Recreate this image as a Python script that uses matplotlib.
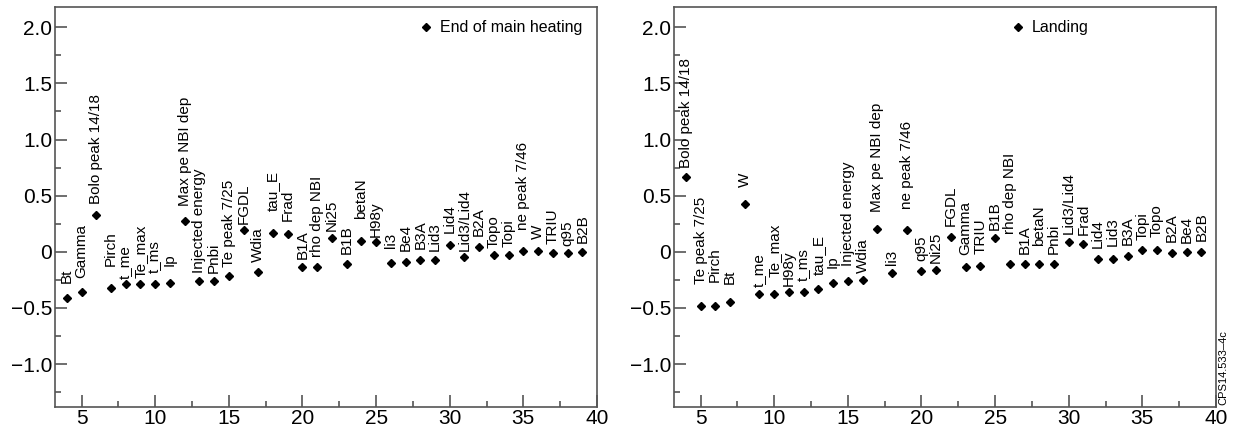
import numpy as np
import matplotlib
matplotlib.use("Agg")
import matplotlib.pyplot as plt
from matplotlib.ticker import MultipleLocator, FixedLocator, FuncFormatter

plt.rcParams['font.family'] = ['Liberation Sans', 'DejaVu Sans']

# 左图: End of main heating
x_left = list(range(4, 40))
names_left = ['Bt', 'Gamma', 'Bolo peak 14/18', 'Pirch', 't_me', 'Te_max', 't_ms', 'Ip',
              'Max pe NBI dep', 'Injected energy', 'Pnbi', 'Te peak 7/25', 'FGDL', 'Wdia',
              'tau_E', 'Frad', 'B1A', 'rho dep NBI', 'Ni25', 'B1B', 'betaN', 'H98y', 'li3',
              'Be4', 'B3A', 'Lid3', 'Lid4', 'Lid3/Lid4', 'B2A', 'Topo', 'Topi', 'ne peak 7/46',
              'W', 'TRIU', 'q95', 'B2B']
vals_left = [-0.41, -0.36, 0.33, -0.32, -0.29, -0.285, -0.285, -0.28,
             0.27, -0.26, -0.26, -0.22, 0.19, -0.18,
             0.17, 0.16, -0.14, -0.135, 0.12, -0.11, 0.10, 0.09, -0.10,
             -0.09, -0.075, -0.075, 0.06, -0.045, 0.04, -0.03, -0.025, 0.01,
             0.01, -0.015, -0.01, -0.005]

# 右图: Landing
x_right = list(range(4, 40))
names_right = ['Bolo peak 14/18', 'Te peak 7/25', 'Pirch', 'Bt', 'W', 't_me', 'Te_max', 'H98y',
               't_ms', 'tau_E', 'Ip', 'Injected energy', 'Wdia', 'Max pe NBI dep', 'li3',
               'ne peak 7/46', 'q95', 'Ni25', 'FGDL', 'Gamma', 'TRIU', 'B1B', 'rho dep NBI',
               'B1A', 'betaN', 'Pnbi', 'Lid3/Lid4', 'Frad', 'Lid4', 'Lid3', 'B3A', 'Topi',
               'Topo', 'B2A', 'Be4', 'B2B']
vals_right = [0.67, -0.48, -0.48, -0.45, 0.43, -0.38, -0.38, -0.36,
              -0.36, -0.33, -0.28, -0.26, -0.25, 0.20, -0.19,
              0.19, -0.17, -0.16, 0.13, -0.135, -0.13, 0.12, -0.11,
              -0.11, -0.11, -0.11, 0.085, 0.07, -0.065, -0.065, -0.035, 0.02,
              0.02, -0.015, 0.0, -0.005]

# 标签相对标记的偏移 (像素)
offs_left = [15, 14, 11, 22, 5, 6, 11, 17, 15, 8, 8, 9, 6, 10, 22, 13, 8, 10,
             7, 10, 22, 5, 15, 11, 11, 9, 12, 6, 11, 7, 8, 21, 12, 9, 7, 9]
offs_right = [9, 22, 24, 18, 17, 7, 17, 6, 11, 14, 15, 15, 7, 17, 8, 21, 10, 7, 11,
              12, 12, 8, 30, 10, 18, 10, 8, 9, 11, 13, 11, 10, 13, 11, 9, 11]

yticks = [-1.0, -0.5, 0, 0.5, 1.0, 1.5, 2.0]

fig = plt.figure(figsize=(12.39, 4.32), dpi=100)
ax_l = fig.add_axes([55 / 1239, 0.0586, 542 / 1239, 0.925])
ax_r = fig.add_axes([674 / 1239, 0.0586, 542 / 1239, 0.925])

frame_col = '#555555'


def fmt_y(v, pos):
    if abs(v) < 1e-9:
        return '0'
    return f'{v:.1f}'.replace('-', '\u2212')


def draw_panel(ax, xs, ys, names, offs, legend_label, legend_x):
    h, = ax.plot(xs, ys, 'D', color='black', markersize=4.2, linestyle='none',
                 label=legend_label)
    for x, y, name, off in zip(xs, ys, names, offs):
        ax.annotate(name, (x, y), xytext=(0, off * 0.72), textcoords='offset points',
                    rotation=90, ha='center', va='bottom', fontsize=11)
    ax.set_xlim(3.2, 40)
    ax.set_ylim(-1.38, 2.18)
    ax.xaxis.set_major_locator(MultipleLocator(5))
    ax.xaxis.set_minor_locator(MultipleLocator(2.5))
    ax.yaxis.set_major_locator(FixedLocator(yticks))
    ax.yaxis.set_minor_locator(MultipleLocator(0.25))
    ax.yaxis.set_major_formatter(FuncFormatter(fmt_y))
    ax.tick_params(which='both', direction='in', top=False, right=False,
                   color=frame_col, width=1.2, labelsize=15)
    ax.tick_params(which='major', length=8.6, pad=2)
    ax.tick_params(which='minor', length=4.3)
    for s in ax.spines.values():
        s.set_color(frame_col)
        s.set_linewidth(1.2)
    ax.legend(handles=[h], loc='center left', bbox_to_anchor=(legend_x, 0.948),
              frameon=False, fontsize=11.5, handlelength=0.6, handletextpad=0.6,
              borderpad=0, borderaxespad=0)


draw_panel(ax_l, x_left, vals_left, names_left, offs_left, 'End of main heating', 0.675)
draw_panel(ax_r, x_right, vals_right, names_right, offs_right, 'Landing', 0.625)

fig.text(1223 / 1239, 0.063, 'CPS14.533\u20134c', rotation=90, ha='center', va='bottom',
         fontsize=8)

fig.savefig('out.png', dpi=100)
